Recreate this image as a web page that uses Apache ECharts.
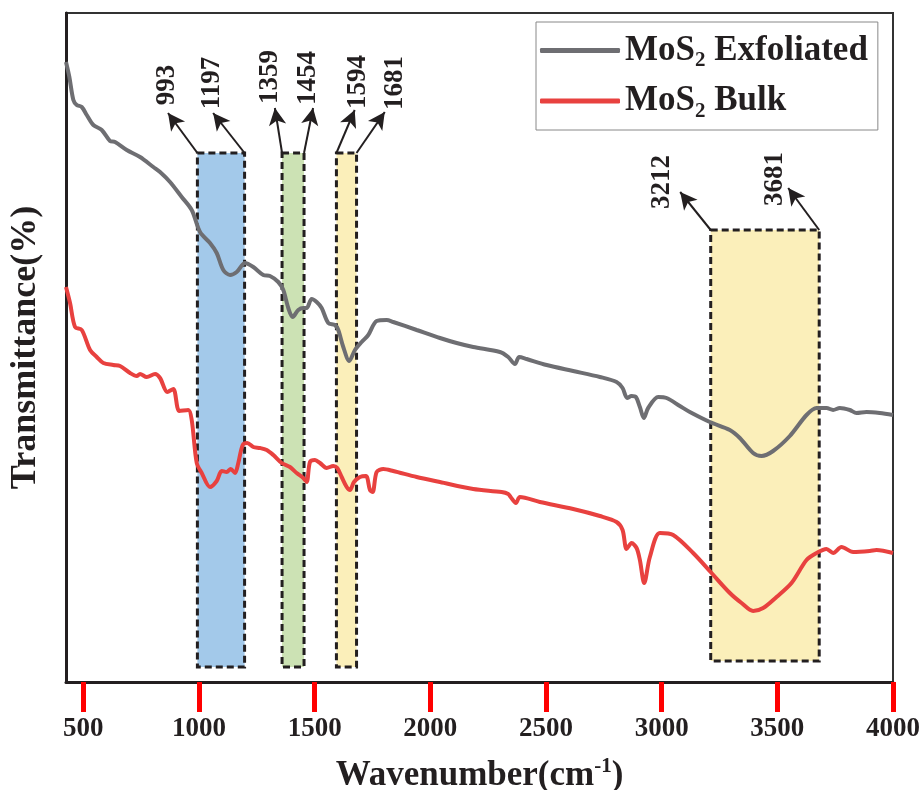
<!DOCTYPE html>
<html>
<head>
<meta charset="utf-8">
<script src="https://cdn.jsdelivr.net/npm/echarts@6/dist/echarts.min.js"></script>
<style>
  html, body { margin: 0; background: #fff; }
  #chart { width: 922px; height: 790px; }
</style>
</head>
<body>
<div id="chart"></div>
<script>
// FTIR spectra (arbitrary transmittance units, offset traces)
const exfWn = [425, 439.5, 456.8, 471.5, 493.1, 514.7, 543.2, 579.5, 615.4, 637.0, 687.6, 745.0, 802.5, 831.5, 874.7, 925.2, 968.5, 1004.3, 1047.5, 1076.5, 1105.0, 1134.0, 1162.9, 1198.8, 1234.7, 1277.9, 1306.8, 1342.7, 1364.3, 1385.9, 1404.9, 1429.1, 1450.7, 1465.4, 1487.0, 1508.6, 1530.2, 1558.8, 1587.7, 1602.0, 1623.6, 1649.5, 1674.2, 1703.1, 1731.6, 1767.9, 1811.1, 1839.6, 1940.8, 2041.5, 2113.6, 2185.4, 2300.7, 2336.6, 2365.6, 2384.2, 2416.2, 2502.6, 2617.5, 2732.9, 2805.1, 2831.0, 2850.9, 2869.9, 2888.5, 2905.8, 2923.1, 2941.6, 2984.9, 3021.2, 3078.6, 3121.8, 3208.2, 3294.7, 3337.9, 3395.4, 3431.7, 3481.8, 3554.0, 3626.2, 3669.4, 3712.6, 3741.1, 3770.1, 3813.3, 3842.2, 3885.4, 3942.9, 4000];
const exfT = [62.0, 60.5, 58.2, 57.7, 57.5, 56.7, 55.7, 55.2, 54.1, 54.0, 53.2, 52.5, 51.5, 51.0, 50.0, 48.5, 47.2, 45.0, 43.9, 42.9, 41.2, 40.7, 41.0, 41.9, 41.5, 40.7, 40.6, 40.0, 39.2, 37.4, 36.5, 37.2, 37.4, 37.4, 38.3, 38.0, 37.4, 35.9, 35.7, 35.2, 33.5, 32.1, 33.2, 34.0, 34.7, 36.1, 36.2, 36.0, 35.2, 34.4, 33.9, 33.5, 33.0, 32.5, 31.8, 32.5, 32.3, 31.7, 31.1, 30.5, 30.0, 29.4, 28.4, 28.6, 28.5, 27.5, 26.4, 27.4, 28.5, 28.4, 27.6, 27.0, 26.0, 25.2, 24.4, 22.9, 22.6, 23.1, 24.6, 26.7, 27.4, 27.4, 27.2, 27.4, 27.2, 26.9, 27.0, 26.9, 26.7];

const bulkWn = [425, 442.5, 464.1, 493.1, 529.0, 557.9, 586.4, 629.6, 658.6, 701.8, 730.8, 745.0, 774.0, 809.9, 831.5, 863.0, 888.9, 914.9, 953.8, 968.5, 990.1, 1011.7, 1047.5, 1076.5, 1098.1, 1119.7, 1137.0, 1155.6, 1169.8, 1188.9, 1208.7, 1234.7, 1263.6, 1292.6, 1321.1, 1357.4, 1393.2, 1422.2, 1450.7, 1465.4, 1479.7, 1501.3, 1522.9, 1551.8, 1580.4, 1597.6, 1616.7, 1638.3, 1652.5, 1669.8, 1695.7, 1721.7, 1739.0, 1750.6, 1767.9, 1796.5, 1839.6, 1940.8, 2041.5, 2185.4, 2308.1, 2336.6, 2347.0, 2369.9, 2387.2, 2473.6, 2617.5, 2732.9, 2805.1, 2831.0, 2848.3, 2869.9, 2891.5, 2905.8, 2924.4, 2949.0, 2992.2, 3049.7, 3136.1, 3215.6, 3294.7, 3345.3, 3395.4, 3438.6, 3496.5, 3561.3, 3626.2, 3669.4, 3712.6, 3741.1, 3777.4, 3827.5, 3899.7, 3928.6, 4000];
const bulkT = [39.5, 37.9, 35.5, 35.2, 33.2, 32.5, 31.9, 31.7, 31.6, 30.9, 30.6, 30.8, 30.5, 30.8, 30.4, 29.0, 29.3, 27.1, 27.2, 26.2, 21.9, 20.9, 19.5, 20.1, 21.1, 21.0, 21.3, 20.9, 21.9, 23.7, 23.9, 23.5, 23.4, 23.2, 22.7, 21.9, 21.5, 20.9, 20.4, 20.0, 22.0, 22.2, 21.9, 21.4, 21.6, 21.4, 20.5, 19.5, 19.2, 20.0, 20.5, 20.6, 19.2, 19.0, 21.0, 21.3, 21.1, 20.5, 20.0, 19.3, 19.0, 18.8, 18.5, 17.9, 18.5, 18.0, 17.3, 16.6, 16.0, 15.2, 13.3, 13.9, 13.4, 12.2, 9.9, 12.5, 14.9, 14.7, 12.9, 10.9, 8.9, 7.9, 7.1, 7.4, 8.5, 9.9, 12.2, 12.9, 13.3, 12.9, 13.5, 13.0, 13.1, 13.2, 12.9];

const xTicks = [500, 1000, 1500, 2000, 2500, 3000, 3500, 4000];

// highlighted bands
const bandFrom = [993, 1359, 1594, 3212];
const bandTo = [1197, 1454, 1681, 3681];
const bandTop = [52.9, 52.9, 52.9, 45.2];
const bandBottom = [1.5, 1.5, 1.5, 2.1];
const bandColors = ['#a3c9ea', '#cce2b4', '#fbefba', '#fbefba'];

// peak labels and arrows
const peakNames = ['993', '1197', '1359', '1454', '1594', '1681', '3212', '3681'];
const arrowFromY = [52.9, 52.9, 52.9, 52.9, 52.9, 52.9, 45.2, 45.2];
const arrowTipX = [866, 1061, 1328, 1493, 1673, 1803, 3080, 3547];
const arrowTipY = [56.9, 56.9, 57.4, 57.4, 57.2, 57.0, 49.0, 49.4];
const labelX = [862, 1056, 1307, 1471, 1687, 1847, 3001, 3489];
const labelY = [59.7, 59.9, 60.5, 60.4, 60.0, 59.9, 50.0, 50.3];

const FONT = 'Liberation Serif';
const INK = '#231f20';

const exfData = exfWn.map((w, i) => [w, exfT[i]]);
const bulkData = bulkWn.map((w, i) => [w, bulkT[i]]);

const bandAreas = bandFrom.map((f, i) => [
  { coord: [f, bandTop[i]], itemStyle: { color: bandColors[i] } },
  { coord: [bandTo[i], bandBottom[i]] }
]);

const arrowLines = peakNames.map((p, i) => [
  { coord: [+p, arrowFromY[i]] },
  { coord: [arrowTipX[i], arrowTipY[i]] }
]);

const peakLabels = peakNames.map((p, i) => ({ coord: [labelX[i], labelY[i]], name: p }));

const chart = echarts.init(document.getElementById('chart'));
chart.setOption({
  animation: false,
  grid: {
    left: 66, right: 29, top: 13, bottom: 108,
    outerBoundsMode: 'none',
    show: true, borderColor: '#333', borderWidth: 2
  },
  legend: {
    data: ['MoS2 Exfoliated', 'MoS2 Bulk'],
    orient: 'vertical',
    left: 536, top: 22,
    padding: [11, 10, 8, 4],
    icon: 'roundRect',
    itemWidth: 80, itemHeight: 5, itemGap: 12,
    backgroundColor: '#fff', borderColor: '#888', borderWidth: 1,
    formatter: n => '{a|MoS}{s|2}{a|' + n.replace('MoS2', '') + '}',
    textStyle: {
      rich: {
        a: { fontFamily: FONT, fontWeight: 'bold', fontSize: 35, color: INK, lineHeight: 42 },
        s: { fontFamily: FONT, fontWeight: 'bold', fontSize: 21, color: INK, lineHeight: 21, verticalAlign: 'bottom' }
      }
    }
  },
  xAxis: {
    type: 'value', min: 425, max: 4000,
    name: '{a|Wavenumber(cm}{p|-1}{a|)}',
    nameLocation: 'middle', nameGap: 74,
    nameTextStyle: {
      rich: {
        a: { fontFamily: FONT, fontWeight: 'bold', fontSize: 35, color: INK, lineHeight: 40 },
        p: { fontFamily: FONT, fontWeight: 'bold', fontSize: 21, color: INK, lineHeight: 21, verticalAlign: 'top' }
      }
    },
    axisLine: { lineStyle: { color: INK, width: 3 } },
    axisTick: { show: true, inside: false, customValues: xTicks, length: 30, lineStyle: { color: '#ff0000', width: 5 } },
    axisLabel: {
      customValues: xTicks, margin: 34,
      formatter: v => String(v),
      fontFamily: FONT, fontWeight: 'bold', fontSize: 27, color: INK
    },
    splitLine: { show: false }
  },
  yAxis: {
    type: 'value', min: 0, max: 66.9,
    name: 'Transmittance(%)',
    nameLocation: 'middle', nameGap: 22,
    nameTextStyle: { fontFamily: FONT, fontWeight: 'bold', fontSize: 36, color: INK },
    axisLine: { show: true, lineStyle: { color: INK, width: 3 } },
    axisTick: { show: false },
    axisLabel: { show: false },
    splitLine: { show: false }
  },
  series: [
    {
      type: 'line', data: [], z: 1, silent: true,
      markArea: {
        silent: true,
        itemStyle: { borderColor: INK, borderWidth: 3, borderType: [7, 4] },
        data: bandAreas
      },
      markLine: {
        silent: true,
        symbol: ['none', 'arrow'], symbolSize: [13, 17],
        lineStyle: { color: INK, width: 2, type: 'solid' },
        label: { show: false },
        data: arrowLines
      },
      markPoint: {
        silent: true,
        symbol: 'circle', symbolSize: 1,
        itemStyle: { color: 'rgba(0,0,0,0)' },
        label: {
          show: true, position: 'inside', rotate: 90,
          formatter: p => p.name,
          fontFamily: FONT, fontWeight: 'bold', fontSize: 27, color: INK,
          textBorderWidth: 0
        },
        data: peakLabels
      }
    },
    {
      name: 'MoS2 Exfoliated', type: 'line', data: exfData, z: 3,
      symbol: 'none', smooth: 0.3,
      lineStyle: { color: '#6e6e72', width: 4 }, itemStyle: { color: '#6e6e72' }
    },
    {
      name: 'MoS2 Bulk', type: 'line', data: bulkData, z: 3,
      symbol: 'none', smooth: 0.3,
      lineStyle: { color: '#e8413f', width: 4 }, itemStyle: { color: '#e8413f' }
    }
  ]
});
</script>
</body>
</html>
